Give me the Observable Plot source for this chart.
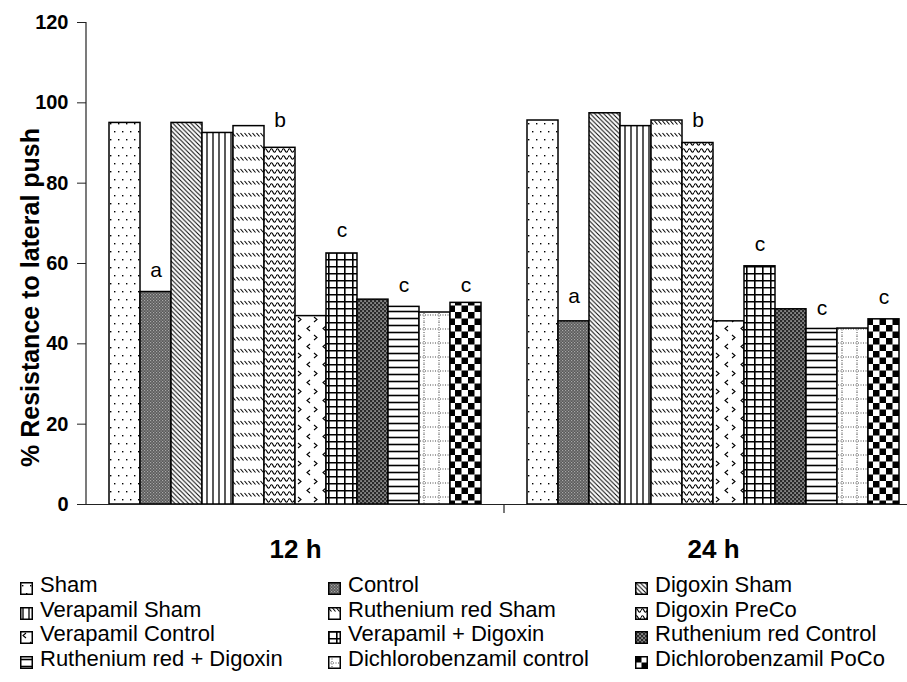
<!DOCTYPE html>
<html>
<head>
<meta charset="utf-8">
<script src="https://cdn.jsdelivr.net/npm/d3@7"></script>
<script src="https://cdn.jsdelivr.net/npm/@observablehq/plot@0.6"></script>
<style>
  body { margin: 0; background: #fff; font-family: "Liberation Sans", Arial, sans-serif; color: #000; }
  #wrap { width: 907px; height: 570px; overflow: hidden; }
  #wrap > svg { max-width: none !important; }
  #legend { display: grid; grid-template-columns: 308px 307px 272px; padding-left: 20px; padding-top: 3px; font-size: 22px; line-height: 24.7px; }
  #legend div { white-space: nowrap; height: 24.7px; }
  #legend svg { vertical-align: -3px; margin-right: 7px; }
</style>
</head>
<body>
<svg width="0" height="0" style="position:absolute">
  <defs>
    <pattern id="p0" width="8" height="16" patternUnits="userSpaceOnUse"><rect width="8" height="16" fill="#fff"/><rect x="2" y="3" width="1.4" height="1.4" fill="#000"/><rect x="6" y="11" width="1.4" height="1.4" fill="#000"/></pattern>
    <pattern id="p1" width="3" height="3" patternUnits="userSpaceOnUse"><rect width="3" height="3" fill="#5a5a5a"/><rect x="0" y="0" width="1.2" height="1.2" fill="#a8a8a8"/><rect x="1.5" y="1.5" width="1.2" height="1.2" fill="#a0a0a0"/></pattern>
    <pattern id="p2" width="4.5" height="4.5" patternUnits="userSpaceOnUse"><rect width="4.5" height="4.5" fill="#fff"/><path d="M-1,-1L5.5,5.5M-1,3.5L1,5.5M3.5,-1L5.5,1" stroke="#000" stroke-width="1"/></pattern>
    <pattern id="p3" width="6" height="10" patternUnits="userSpaceOnUse"><rect width="6" height="10" fill="#fff"/><path d="M3,0V10" stroke="#000" stroke-width="1.3"/></pattern>
    <pattern id="p4" width="4" height="12" patternUnits="userSpaceOnUse"><rect width="4" height="12" fill="#fff"/><path d="M0.5,1L3.5,4.5" stroke="#000" stroke-width="1.1"/></pattern>
    <pattern id="p5" width="6" height="7" patternUnits="userSpaceOnUse"><rect width="6" height="7" fill="#fff"/><path d="M0,3.5Q1.5,0 3,3.5T6,3.5" fill="none" stroke="#000" stroke-width="1.2"/></pattern>
    <pattern id="p6" width="16" height="18" patternUnits="userSpaceOnUse"><rect width="16" height="18" fill="#fff"/><path d="M6,2L3,4.5L6,7M10,11L13,13.5L10,16" fill="none" stroke="#000" stroke-width="1.1"/></pattern>
    <pattern id="p7" width="8" height="7" patternUnits="userSpaceOnUse"><rect width="8" height="7" fill="#fff"/><path d="M0.8,0V7M0,0.8H8" stroke="#000" stroke-width="1.6"/></pattern>
    <pattern id="p8" width="4" height="4" patternUnits="userSpaceOnUse"><rect width="4" height="4" fill="#2a2a2a"/><rect x="0.4" y="0.4" width="1.3" height="1.3" fill="#e8e8e8"/><rect x="2.4" y="2.4" width="1.3" height="1.3" fill="#e8e8e8"/></pattern>
    <pattern id="p9" width="8" height="7" patternUnits="userSpaceOnUse"><rect width="8" height="7" fill="#fff"/><path d="M0,3.5H8" stroke="#000" stroke-width="1.6"/></pattern>
    <pattern id="p10" width="15" height="14" patternUnits="userSpaceOnUse"><rect width="15" height="14" fill="#fff"/><path d="M4,0V14M0,7H15" stroke="#444" stroke-width="1" stroke-dasharray="1 1.5"/></pattern>
    <pattern id="p11" width="13" height="13" patternUnits="userSpaceOnUse"><rect width="13" height="13" fill="#fff"/><rect width="6.5" height="6.5" fill="#000"/><rect x="6.5" y="6.5" width="6.5" height="6.5" fill="#000"/></pattern>
  </defs>
</svg>
<div id="wrap"></div>
<div id="legend"></div>
<script>
// ---- data ----
const groups = ["12 h", "24 h"];
const series = [
  "Sham", "Control", "Digoxin Sham",
  "Verapamil Sham", "Ruthenium red Sham", "Digoxin PreCo",
  "Verapamil Control", "Verapamil + Digoxin", "Ruthenium red Control",
  "Ruthenium red + Digoxin", "Dichlorobenzamil control", "Dichlorobenzamil PoCo"
];
const values12h = [95.0, 52.9, 95.0, 92.5, 94.2, 88.8, 46.9, 62.5, 51.0, 49.2, 47.8, 50.2];
const values24h = [95.6, 45.6, 97.4, 94.2, 95.6, 90.0, 45.6, 59.3, 48.6, 43.7, 43.8, 46.1];
const yTicks = [0, 20, 40, 60, 80, 100, 120];
const yLabel = "% Resistance to lateral push";
// significance letters: group, series, letter, height (data units) of the letter baseline
const letterGroups = ["12 h", "12 h", "12 h", "12 h", "12 h", "24 h", "24 h", "24 h", "24 h", "24 h"];
const letterSeries = ["Control", "Digoxin PreCo", "Verapamil + Digoxin", "Ruthenium red + Digoxin", "Dichlorobenzamil PoCo",
                      "Control", "Digoxin PreCo", "Verapamil + Digoxin", "Ruthenium red + Digoxin", "Dichlorobenzamil PoCo"];
const letterTexts = ["a", "b", "c", "c", "c", "a", "b", "c", "c", "c"];
const letterHeights = [56.6, 93.9, 66.5, 52.9, 52.9, 50.1, 93.9, 63.2, 47.1, 50.0];

// ---- styles ----
const patterns = series.map((d, i) => `url(#p${i})`);

// ---- tables ----
const rows = [];
series.forEach((s, i) => {
  rows.push({group: groups[0], series: s, value: values12h[i]});
  rows.push({group: groups[1], series: s, value: values24h[i]});
});
const letters = letterTexts.map((t, i) => ({group: letterGroups[i], series: letterSeries[i], letter: t, y: letterHeights[i]}));

const font = "'Liberation Sans', Arial, sans-serif";
const chart = Plot.plot({
  width: 940,
  height: 570,
  marginTop: 22,
  marginBottom: 66,
  marginLeft: 86,
  marginRight: 18,
  style: {fontFamily: font, color: "#000", background: "#fff", maxWidth: "none"},
  fx: {domain: groups, padding: 0, round: false},
  x: {domain: series, paddingInner: 0, paddingOuter: 0.742, round: false, axis: null},
  y: {domain: [0, 120]},
  color: {type: "ordinal", domain: series, range: patterns},
  marks: [
    Plot.barY(rows, {fx: "group", x: "series", y: "value", fill: "series", stroke: "#000", strokeWidth: 1.5}),
    Plot.ruleY([0], {stroke: "#222", strokeWidth: 1.2}),
    Plot.axisY({ticks: yTicks, tickSize: 9, tickPadding: 9, fontSize: 20, fontWeight: "bold", label: null, stroke: "#222"}),
    Plot.axisFx({anchor: "bottom", tickSize: 0, tickPadding: 35, fontSize: 26, fontWeight: "bold", label: null}),
    Plot.text(letters, {fx: "group", x: "series", y: "y", text: "letter", lineAnchor: "bottom", fontSize: 21, fill: "#000"}),
    Plot.text([yLabel], {frameAnchor: "left", facetAnchor: "left", textAnchor: "middle", lineAnchor: "middle", rotate: -90, dx: -56, dy: 34, fontSize: 25, fontWeight: "bold", fill: "#000"})
  ]
});
document.getElementById("wrap").appendChild(chart);

// y axis line and group boundary tick, positioned through Plot's own scales
const ys = chart.scale("y"), fxs = chart.scale("fx");
const y0 = ys.apply(0), yTop = ys.apply(120);
const xLeft = fxs.apply(groups[0]), xMid = fxs.apply(groups[1]);
const svg = d3.select(chart);
svg.append("line").attr("x1", xLeft).attr("x2", xLeft).attr("y1", yTop).attr("y2", y0)
  .attr("stroke", "#222").attr("stroke-width", 1.2);
svg.append("line").attr("x1", xMid).attr("x2", xMid).attr("y1", y0).attr("y2", y0 + 9)
  .attr("stroke", "#222").attr("stroke-width", 1.2);

// legend (row-major, 3 columns)
const legend = d3.select("#legend");
series.forEach((s, i) => {
  const item = legend.append("div");
  const sw = item.append("svg").attr("width", 13).attr("height", 13);
  sw.append("rect").attr("x", 0.75).attr("y", 0.75).attr("width", 11.5).attr("height", 11.5)
    .attr("fill", patterns[i]).attr("stroke", "#000").attr("stroke-width", 1.5);
  item.append("span").text(s);
});
</script>
</body>
</html>
